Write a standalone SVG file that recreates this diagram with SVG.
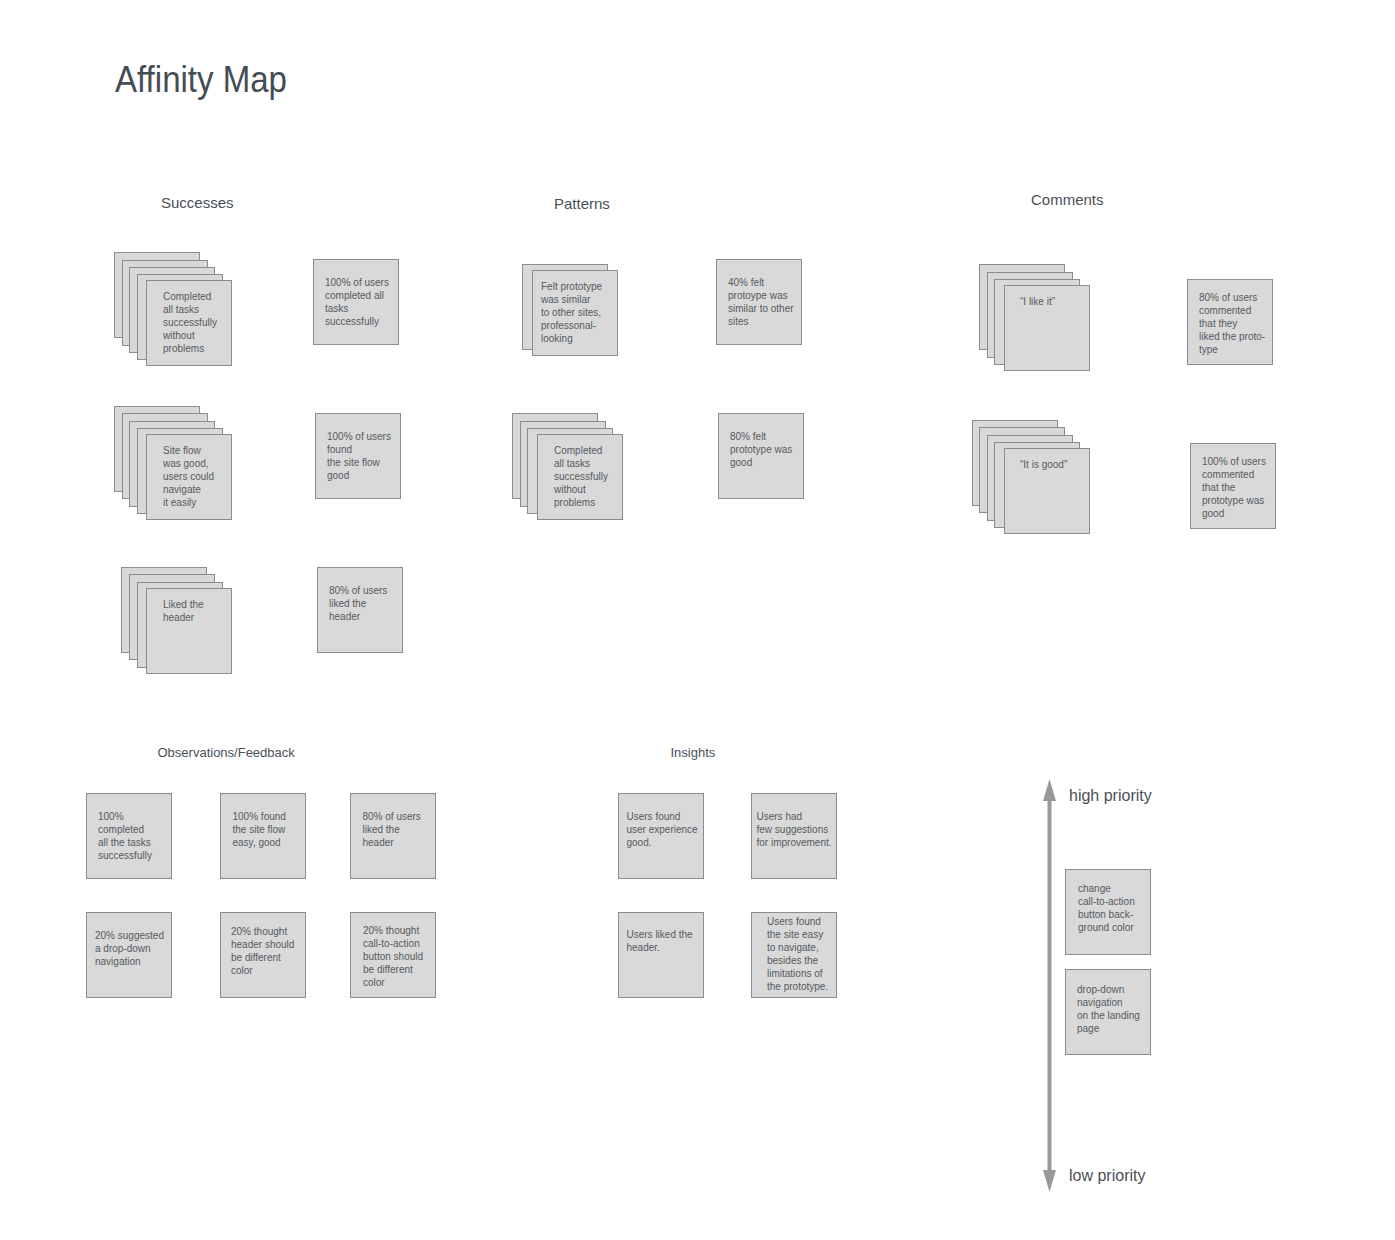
<svg xmlns="http://www.w3.org/2000/svg" width="1395" height="1240" viewBox="0 0 1395 1240">
<style>
.bg{fill:#ffffff}
.card{fill:#d9d9d9;stroke:#8c8c8c;stroke-width:1}
.t{font-family:"Liberation Sans",Arial,sans-serif;font-size:10px;fill:#555a5f}
.h{font-family:"Liberation Sans",Arial,sans-serif;font-size:15px;fill:#4a5057}
.h2{font-family:"Liberation Sans",Arial,sans-serif;font-size:13px;fill:#4a5057}
.p{font-family:"Liberation Sans",Arial,sans-serif;font-size:16px;fill:#4a5057}
.title{font-family:"Liberation Sans",Arial,sans-serif;font-size:36px;fill:#444c55}
.arrow{stroke:#999999;stroke-width:4;fill:none}
</style>
<defs>
<marker id="head" viewBox="0 0 22 13" refX="0" refY="6.5" markerWidth="22" markerHeight="13" markerUnits="userSpaceOnUse" orient="auto-start-reverse">
<path d="M0,0 L22,6.5 L0,13 Z" fill="#999999"/>
</marker>
</defs>
<rect class="bg" x="0" y="0" width="1395" height="1240"/>

<text class="title" x="115" y="92" textLength="172" lengthAdjust="spacingAndGlyphs">Affinity Map</text>

<g id="headings">
<text class="h" x="161" y="208">Successes</text>
<text class="h" x="554" y="209">Patterns</text>
<text class="h" x="1031" y="205">Comments</text>
<text class="h2" x="157.5" y="757">Observations/Feedback</text>
<text class="h2" x="670.5" y="757">Insights</text>
</g>

<!-- Successes -->
<g id="s-stack-1">
<rect class="card" x="114.5" y="252.5" width="85" height="85"/>
<rect class="card" x="122.5" y="260.5" width="85" height="85"/>
<rect class="card" x="129.5" y="267.5" width="85" height="85"/>
<rect class="card" x="137.5" y="274.5" width="85" height="85"/>
<rect class="card" x="146.5" y="280.5" width="85" height="85"/>
<text class="t" x="163" y="300">Completed</text>
<text class="t" x="163" y="313">all tasks</text>
<text class="t" x="163" y="326">successfully</text>
<text class="t" x="163" y="339">without</text>
<text class="t" x="163" y="352">problems</text>
</g>
<g id="s-card-1">
<rect class="card" x="313.5" y="259.5" width="85" height="85"/>
<text class="t" x="325" y="286">100% of users</text>
<text class="t" x="325" y="299">completed all</text>
<text class="t" x="325" y="312">tasks</text>
<text class="t" x="325" y="325">successfully</text>
</g>
<g id="s-stack-2">
<rect class="card" x="114.5" y="406.5" width="85" height="85"/>
<rect class="card" x="122.5" y="413.5" width="85" height="85"/>
<rect class="card" x="129.5" y="421.5" width="85" height="85"/>
<rect class="card" x="137.5" y="428.5" width="85" height="85"/>
<rect class="card" x="146.5" y="434.5" width="85" height="85"/>
<text class="t" x="163" y="454">Site flow</text>
<text class="t" x="163" y="467">was good,</text>
<text class="t" x="163" y="480">users could</text>
<text class="t" x="163" y="493">navigate</text>
<text class="t" x="163" y="506">it easily</text>
</g>
<g id="s-card-2">
<rect class="card" x="315.5" y="413.5" width="85" height="85"/>
<text class="t" x="327" y="440">100% of users</text>
<text class="t" x="327" y="453">found</text>
<text class="t" x="327" y="466">the site flow</text>
<text class="t" x="327" y="479">good</text>
</g>
<g id="s-stack-3">
<rect class="card" x="121.5" y="567.5" width="85" height="85"/>
<rect class="card" x="129.5" y="574.5" width="85" height="85"/>
<rect class="card" x="137.5" y="582.5" width="85" height="85"/>
<rect class="card" x="146.5" y="588.5" width="85" height="85"/>
<text class="t" x="163" y="608">Liked the</text>
<text class="t" x="163" y="621">header</text>
</g>
<g id="s-card-3">
<rect class="card" x="317.5" y="567.5" width="85" height="85"/>
<text class="t" x="329" y="594">80% of users</text>
<text class="t" x="329" y="607">liked the</text>
<text class="t" x="329" y="620">header</text>
</g>

<!-- Patterns -->
<g id="p-stack-1">
<rect class="card" x="522.5" y="264.5" width="85" height="85"/>
<rect class="card" x="532.5" y="270.5" width="85" height="85"/>
<text class="t" x="541" y="290">Felt prototype</text>
<text class="t" x="541" y="303">was similar</text>
<text class="t" x="541" y="316">to other sites,</text>
<text class="t" x="541" y="329">professonal-</text>
<text class="t" x="541" y="342">looking</text>
</g>
<g id="p-card-1">
<rect class="card" x="716.5" y="259.5" width="85" height="85"/>
<text class="t" x="728" y="286">40% felt</text>
<text class="t" x="728" y="299">protoype was</text>
<text class="t" x="728" y="312">similar to other</text>
<text class="t" x="728" y="325">sites</text>
</g>
<g id="p-stack-2">
<rect class="card" x="512.5" y="413.5" width="85" height="85"/>
<rect class="card" x="520.5" y="421.5" width="85" height="85"/>
<rect class="card" x="527.5" y="428.5" width="85" height="85"/>
<rect class="card" x="537.5" y="434.5" width="85" height="85"/>
<text class="t" x="554" y="454">Completed</text>
<text class="t" x="554" y="467">all tasks</text>
<text class="t" x="554" y="480">successfully</text>
<text class="t" x="554" y="493">without</text>
<text class="t" x="554" y="506">problems</text>
</g>
<g id="p-card-2">
<rect class="card" x="718.5" y="413.5" width="85" height="85"/>
<text class="t" x="730" y="440">80% felt</text>
<text class="t" x="730" y="453">prototype was</text>
<text class="t" x="730" y="466">good</text>
</g>

<!-- Comments -->
<g id="c-stack-1">
<rect class="card" x="979.5" y="264.5" width="85" height="85"/>
<rect class="card" x="987.5" y="272.5" width="85" height="85"/>
<rect class="card" x="994.5" y="279.5" width="85" height="85"/>
<rect class="card" x="1004.5" y="285.5" width="85" height="85"/>
<text class="t" x="1020" y="305">“I like it”</text>
</g>
<g id="c-card-1">
<rect class="card" x="1187.5" y="279.5" width="85" height="85"/>
<text class="t" x="1199" y="301">80% of users</text>
<text class="t" x="1199" y="314">commented</text>
<text class="t" x="1199" y="327">that they</text>
<text class="t" x="1199" y="340">liked the proto-</text>
<text class="t" x="1199" y="353">type</text>
</g>
<g id="c-stack-2">
<rect class="card" x="972.5" y="420.5" width="85" height="85"/>
<rect class="card" x="979.5" y="427.5" width="85" height="85"/>
<rect class="card" x="987.5" y="435.5" width="85" height="85"/>
<rect class="card" x="994.5" y="442.5" width="85" height="85"/>
<rect class="card" x="1004.5" y="448.5" width="85" height="85"/>
<text class="t" x="1020" y="468">“It is good”</text>
</g>
<g id="c-card-2">
<rect class="card" x="1190.5" y="443.5" width="85" height="85"/>
<text class="t" x="1202" y="465">100% of users</text>
<text class="t" x="1202" y="478">commented</text>
<text class="t" x="1202" y="491">that the</text>
<text class="t" x="1202" y="504">prototype was</text>
<text class="t" x="1202" y="517">good</text>
</g>

<!-- Observations/Feedback -->
<g id="o-1">
<rect class="card" x="86.5" y="793.5" width="85" height="85"/>
<text class="t" x="98" y="820">100%</text>
<text class="t" x="98" y="833">completed</text>
<text class="t" x="98" y="846">all the tasks</text>
<text class="t" x="98" y="859">successfully</text>
</g>
<g id="o-2">
<rect class="card" x="220.5" y="793.5" width="85" height="85"/>
<text class="t" x="232.5" y="820">100% found</text>
<text class="t" x="232.5" y="833">the site flow</text>
<text class="t" x="232.5" y="846">easy, good</text>
</g>
<g id="o-3">
<rect class="card" x="350.5" y="793.5" width="85" height="85"/>
<text class="t" x="362.5" y="820">80% of users</text>
<text class="t" x="362.5" y="833">liked the</text>
<text class="t" x="362.5" y="846">header</text>
</g>
<g id="o-4">
<rect class="card" x="86.5" y="912.5" width="85" height="85"/>
<text class="t" x="95" y="939">20% suggested</text>
<text class="t" x="95" y="952">a drop-down</text>
<text class="t" x="95" y="965">navigation</text>
</g>
<g id="o-5">
<rect class="card" x="220.5" y="912.5" width="85" height="85"/>
<text class="t" x="231" y="935">20% thought</text>
<text class="t" x="231" y="948">header should</text>
<text class="t" x="231" y="961">be different</text>
<text class="t" x="231" y="974">color</text>
</g>
<g id="o-6">
<rect class="card" x="350.5" y="912.5" width="85" height="85"/>
<text class="t" x="363" y="934">20% thought</text>
<text class="t" x="363" y="947">call-to-action</text>
<text class="t" x="363" y="960">button should</text>
<text class="t" x="363" y="973">be different</text>
<text class="t" x="363" y="986">color</text>
</g>

<!-- Insights -->
<g id="i-1">
<rect class="card" x="618.5" y="793.5" width="85" height="85"/>
<text class="t" x="626.5" y="820">Users found</text>
<text class="t" x="626.5" y="833">user experience</text>
<text class="t" x="626.5" y="846">good.</text>
</g>
<g id="i-2">
<rect class="card" x="751.5" y="793.5" width="85" height="85"/>
<text class="t" x="756.5" y="820">Users had</text>
<text class="t" x="756.5" y="833">few suggestions</text>
<text class="t" x="756.5" y="846">for improvement.</text>
</g>
<g id="i-3">
<rect class="card" x="618.5" y="912.5" width="85" height="85"/>
<text class="t" x="626.5" y="938">Users liked the</text>
<text class="t" x="626.5" y="951">header.</text>
</g>
<g id="i-4">
<rect class="card" x="751.5" y="912.5" width="85" height="85"/>
<text class="t" x="767" y="925">Users found</text>
<text class="t" x="767" y="938">the site easy</text>
<text class="t" x="767" y="951">to navigate,</text>
<text class="t" x="767" y="964">besides  the</text>
<text class="t" x="767" y="977">limitations of</text>
<text class="t" x="767" y="990">the prototype.</text>
</g>

<!-- Priority -->
<g id="connectors">
<line class="arrow" x1="1049.5" y1="801" x2="1049.5" y2="1170" marker-start="url(#head)" marker-end="url(#head)"/>
</g>
<g id="priority-labels">
<text class="p" x="1069" y="801">high priority</text>
<text class="p" x="1069" y="1181">low priority</text>
</g>
<g id="pr-1">
<rect class="card" x="1065.5" y="869.5" width="85" height="85"/>
<text class="t" x="1078" y="892">change</text>
<text class="t" x="1078" y="905">call-to-action</text>
<text class="t" x="1078" y="918">button back-</text>
<text class="t" x="1078" y="931">ground color</text>
</g>
<g id="pr-2">
<rect class="card" x="1065.5" y="969.5" width="85" height="85"/>
<text class="t" x="1077" y="993">drop-down</text>
<text class="t" x="1077" y="1006">navigation</text>
<text class="t" x="1077" y="1019">on the landing</text>
<text class="t" x="1077" y="1032">page</text>
</g>
</svg>
